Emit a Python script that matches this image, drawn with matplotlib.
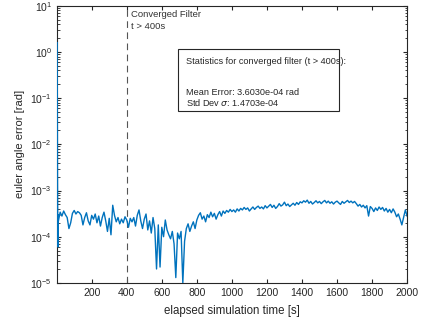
import numpy as np
import matplotlib
matplotlib.use('Agg')
import matplotlib.pyplot as plt
from matplotlib.patches import Rectangle
from matplotlib.ticker import LogLocator, NullFormatter

# start-up transient (s, rad)
t_head = [3, 5, 7, 9]
err_head = [1.6, 1.5e-3, 6e-5, 3e-4]

# error every 10 s from 10 s to 2000 s, in 1e-4 rad
err_main = [
    2.2, 3.4, 2.8, 3.6, 3.0, 2.6, 1.5, 2.0, 3.2, 3.7, 3.1, 3.5, 3.3, 2.9, 1.8, 2.6, 3.3, 2.2, 1.8, 2.9,
    2.4, 3.1, 2.0, 2.8, 1.7, 2.6, 3.4, 2.2, 1.3, 2.5, 1.1, 4.8, 2.9, 2.1, 2.6, 1.9, 2.4, 2.0, 2.7, 2.3,
    1.6, 2.5, 2.1, 2.6, 1.7, 2.9, 3.8, 2.2, 1.5, 2.4, 3.1, 1.4, 2.2, 1.2, 2.6, 1.5, 0.2, 1.8, 0.22, 1.6,
    1.0, 2.3, 1.4, 1.1, 0.9, 1.3, 0.7, 0.13, 1.2, 0.9, 1.3, 0.1, 0.8, 1.5, 1.9, 1.3, 1.7, 2.1, 1.5, 2.3,
    2.9, 3.3, 2.4, 2.8, 2.1, 3.0, 2.6, 3.4, 2.7, 3.2, 2.4, 3.0, 3.5, 2.8, 3.6, 3.2, 3.7, 3.4, 3.9, 3.5,
    3.8, 3.4, 4.0, 3.6, 4.1, 3.8, 4.3, 3.9, 4.2, 3.6, 4.0, 4.4, 3.9, 4.3, 4.6, 4.1, 4.4, 4.0, 4.7, 4.2,
    4.6, 5.0, 4.3, 4.8, 4.1, 4.5, 5.2, 4.6, 4.9, 5.6, 4.7, 5.1, 4.5, 4.9, 5.3, 4.8, 5.5, 5.0, 5.7, 5.4,
    6.0, 5.6, 6.2, 5.3, 5.8, 5.1, 5.5, 6.0, 5.4, 5.8, 5.2, 5.7, 6.1, 5.4, 5.9, 5.3, 5.7, 5.1, 5.6, 5.9,
    5.4, 5.0, 5.8, 5.3, 5.7, 6.1, 5.5, 5.9, 5.4, 5.8, 5.2, 4.6, 5.0, 4.4, 4.8, 4.2, 4.7, 2.8, 4.5, 4.1,
    3.5, 4.2, 3.7, 4.4, 3.9, 4.3, 3.6, 4.1, 3.4, 3.9, 3.3, 4.0, 3.4, 2.7, 3.1, 2.4, 1.8, 2.6, 3.8, 2.8,
]
t_main = np.arange(10, 2001, 10)

t = np.concatenate([t_head, t_main])
err = np.concatenate([err_head, np.array(err_main) * 1e-4])

mean_err = '3.6030e-04'
std_err = '1.4703e-04'
t_conv = 400

plt.rcParams['font.family'] = ['Liberation Sans', 'DejaVu Sans']
plt.rcParams['font.size'] = 7.5

fig = plt.figure(figsize=(4.21, 3.27), dpi=100)
ax = fig.add_axes([0.135, 0.135, 0.832, 0.847])

ax.semilogy(t, err, color='#0072BD', lw=1.0, zorder=3)
ax.axvline(t_conv, color='#555555', ls=(0, (6, 4)), lw=0.8)

ax.set_xlim(1, 2000)
ax.set_ylim(1e-5, 1e1)
ax.set_xticks(range(200, 2001, 200))
ax.set_yticks([10.0 ** k for k in range(-5, 2)])
ax.yaxis.set_minor_locator(LogLocator(base=10, subs=np.arange(2, 10), numticks=20))
ax.yaxis.set_minor_formatter(NullFormatter())
ax.tick_params(which='both', direction='in', top=True, right=True, colors='#262626')
ax.tick_params(which='major', length=3)
ax.tick_params(which='minor', length=1.8)
for s in ax.spines.values():
    s.set_color('#262626')
    s.set_linewidth(0.8)

ax.set_xlabel('elapsed simulation time [s]', fontsize=8.3, color='#262626', labelpad=5)
ax.set_ylabel('euler angle error [rad]', fontsize=8, color='#262626')

# annotation next to the dashed line
ax.text(0.212, 0.968, 'Converged Filter', transform=ax.transAxes,
        fontsize=6.8, color='#333333', va='center', ha='left')
ax.text(0.212, 0.924, 't > 400s', transform=ax.transAxes,
        fontsize=6.8, color='#333333', va='center', ha='left')

# statistics box
ax.add_patch(Rectangle((0.346, 0.621), 0.46, 0.224, transform=ax.transAxes,
                       fc='white', ec='#262626', lw=0.8, zorder=4))
lines = ['Statistics for converged filter (t > 400s):',
         'Mean Error: ' + mean_err + ' rad',
         'Std Dev $\\sigma$: ' + std_err]
for txt, yy in zip(lines, [0.798, 0.686, 0.650]):
    ax.text(0.369, yy, txt, transform=ax.transAxes, fontsize=6.6,
            color='#262626', va='center', ha='left', zorder=5)

fig.savefig('out.png', dpi=100)
